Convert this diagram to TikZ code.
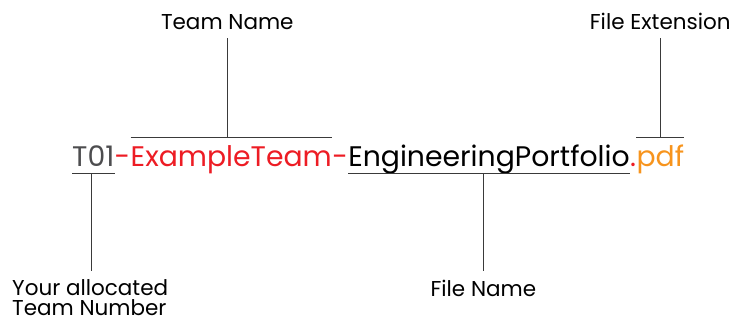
\documentclass[tikz,border=0pt]{standalone}
\usepackage{fontspec}
\setmainfont{Poppins}
\usetikzlibrary{calc}
\definecolor{tgray}{HTML}{4D4D4F}
\definecolor{tred}{HTML}{ED1C24}
\definecolor{torange}{HTML}{F7941D}
\definecolor{tline}{HTML}{3A3A3A}
\begin{document}
\begin{tikzpicture}[x=1pt,y=1pt,
  part/.style={inner sep=0pt, anchor=base west, font=\fontsize{28.3}{30}\selectfont},
  label/.style={inner sep=0pt, font=\fontsize{21.5}{20}\selectfont, text=black},
  conn/.style={draw=tline, line width=1pt}]
\useasboundingbox (0,0) rectangle (742,322);
% main file name
\node[part, text=tgray] (t01) at (72,155.3) {T01};
\node[part, text=tred] (d1) at (t01.base east) {-};
\node[part, text=tred] (team) at (d1.base east) {ExampleTeam};
\node[part, text=tred] (d2) at (team.base east) {-};
\node[part, text=black] (file) at (d2.base east) {EngineeringPortfolio};
\node[part, text=tred] (dot) at (file.base east) {.};
\node[part, text=torange] (ext) at (dot.base east) {pdf};
% bracket coordinates
\coordinate (tl) at (team.west |- 0,184.3);
\coordinate (tr) at (team.east |- 0,184.3);
\coordinate (el) at (ext.west |- 0,184.3);
\coordinate (er) at (ext.east |- 0,184.3);
\coordinate (nl) at (t01.west |- 0,148.7);
\coordinate (nr) at (t01.east |- 0,148.7);
\coordinate (fl) at (file.west |- 0,148.7);
\coordinate (fr) at (file.east |- 0,148.7);
\coordinate (tm) at ($(tl)!0.48!(tr)$);
\coordinate (em) at ($(el)!0.5!(er)$);
\coordinate (nm) at ($(nl)!0.45!(nr)$);
\coordinate (fm) at ($(fl)!0.48!(fr)$);
% labels
\node[label, anchor=base] (lteam) at (tm |- 0,292.7) {Team Name};
\node[label, anchor=base] (lext) at (em |- 0,292.7) {File Extension};
\node[label, anchor=base] (lfile) at (fm |- 0,25.3) {File Name};
\node[label, anchor=north west, align=left] (lnum) at (12,43) {Your allocated\\Team Number};
\coordinate (lnumtop) at (nm |- 0,51);
% brackets
\draw[conn] (tl) -- (tr);
\draw[conn] (tm) -- ([yshift=-8.7pt]lteam.base);
\draw[conn] (el) -- (er);
\draw[conn] (em) -- ([yshift=-8.7pt]lext.base);
\draw[conn] (nl) -- (nr);
\draw[conn] (nm) -- (lnumtop);
\draw[conn] (fl) -- (fr);
\draw[conn] (fm) -- ([yshift=9.6pt]lfile.north);
\end{tikzpicture}
\end{document}
